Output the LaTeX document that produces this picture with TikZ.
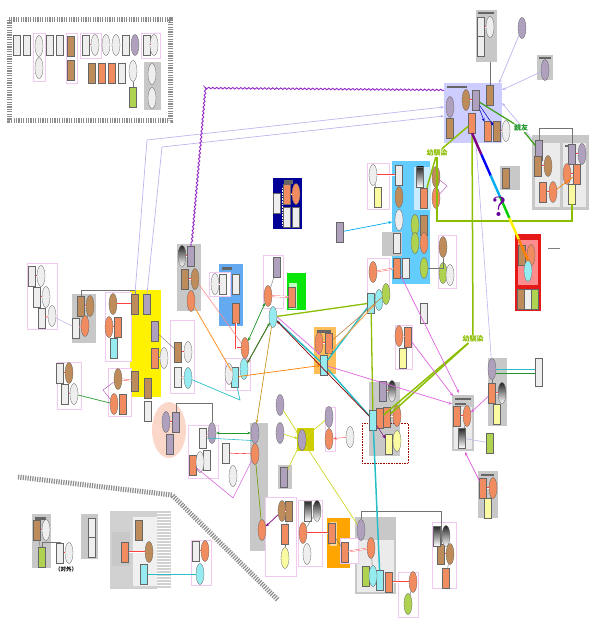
\documentclass[tikz,border=0pt]{standalone}
\usepackage{tikz}
\usepackage{xcolor}
\usepackage{fontspec}
\newfontfamily\cjk{Noto Sans CJK JP}
\usetikzlibrary{arrows.meta,shapes.geometric,calc,decorations.pathmorphing}
\definecolor{brn}{RGB}{190,140,90}
\definecolor{orn}{RGB}{240,140,95}
\definecolor{lav}{RGB}{175,160,190}
\definecolor{wht}{RGB}{238,238,238}
\definecolor{cyn}{RGB}{150,235,240}
\definecolor{ylw}{RGB}{250,250,160}
\definecolor{grn}{RGB}{175,210,80}
\definecolor{frm}{RGB}{240,200,240}
\definecolor{grp}{RGB}{200,200,200}
\definecolor{lavbox}{RGB}{205,205,255}
\definecolor{skyb}{RGB}{100,205,255}
\definecolor{navy}{RGB}{0,0,150}
\definecolor{blbox}{RGB}{100,170,240}
\definecolor{gbox}{RGB}{10,230,10}
\definecolor{lorbox}{RGB}{255,190,90}
\definecolor{orbox}{RGB}{255,165,0}
\definecolor{yelg}{RGB}{205,205,0}
\definecolor{peach}{RGB}{250,215,200}
\definecolor{rbox}{RGB}{230,25,25}
\definecolor{ogrn}{RGB}{140,190,0}
\definecolor{dgrn}{RGB}{30,150,40}
\definecolor{lvln}{RGB}{190,180,240}
\definecolor{mag}{RGB}{220,100,220}
\definecolor{cyln}{RGB}{40,190,200}
\definecolor{ocre}{RGB}{200,150,40}
\definecolor{ylln}{RGB}{205,215,40}
\definecolor{wavy}{RGB}{150,40,200}
\tikzset{
  male/.style={draw=black!60, line width=0.3pt, minimum width=7pt, minimum height=20pt, inner sep=0pt},
  fem/.style={ellipse, draw=black!60, line width=0.3pt, minimum width=8pt, minimum height=21pt, inner sep=0pt},
  drk/.style={top color=black!85, bottom color=white},
  wed/.style={draw=red!75, double=white, double distance=0.9pt, line width=0.3pt},
  kin/.style={black!55, line width=0.4pt},
  rel/.style={-{Stealth[length=3.5pt,width=3pt]}, line width=0.7pt},
  lbl/.style={font=\cjk\bfseries\fontsize{7}{7}\selectfont, inner sep=0.6pt, fill=white}
}
\begin{document}
\begin{tikzpicture}[x=1pt,y=-1pt]
    \useasboundingbox (0,0) rectangle (600,620);
    \draw[black!45, line width=5pt, dash pattern=on 1.2pt off 1.2pt] (9,20) rectangle (170,121);
    \draw[black!45, line width=5pt, dash pattern=on 1.2pt off 1.2pt] (18,477) -- (172,495) -- (278,600);
    \foreach \a/\b/\c/\d/\col in {
      144/62/161/110/grp, 476/10/497/62/grp, 537/55/553/80/grp, 444/83/502/143/lavbox,
      532/135/589/210/grp, 535/143/560/207/black!8, 563/143/586/207/black!8, 500/166/520/190/grp,
      515/234/541/311/rbox, 518/240/538/285/red!45, 392/161/430/284/skyb, 414/167/431/210/skyb!35,
      382/232/402/256/grp, 273/178/302/229/navy, 177/244/201/311/grp, 219/264/243/326/blbox,
      287/273/306/310/gbox, 289/283/297/309/green!25, 314/327/336/374/lorbox, 130/290/161/397/yellow,
      72/294/96/343/grp, 250/423/268/551/grp, 297/428/314/451/yelg, 278/465/292/489/grp,
      327/518/350/568/orbox, 330/522/337/546/lorbox!60, 355/517/396/594/grp, 357/540/394/592/black!8,
      369/382/400/456/grp, 452/395/474/451/grp, 454/407/472/449/black!8, 488/358/507/426/grp,
      478/471/498/518/grp, 32/514/51/568/grp, 81/514/98/559/grp, 110/511/171/589/black!18,
      133/517/157/586/black!6, 112/532/130/566/grp}
      \fill[\col] (\a,\b) rectangle (\c,\d);
    \foreach \yy in {513,516,...,588}
      \draw[white, line width=0.4pt] (157,\yy) -- (171,\yy);
    \fill[peach] (169,430) ellipse [x radius=17, y radius=28];
    \foreach \a/\b/\c/\d in {
      478/12/494/14.5, 539/57/551/59.5, 447/86/467/88.5, 565/145/576/147.5, 284/180/293/184,
      222/267/232/269.5, 317/330/331/332.5, 455/398/471/400, 455/403/466/405, 481/474/494/476,
      35/517/46/519.5}
      \fill[black!60] (\a,\b) rectangle (\c,\d);
    \foreach \a/\b/\c/\d in {
      33/33/45/81, 66/33/77/83, 80/33/101/58, 141/33/160/58, 367/163/389/209, 438/235/456/288,
      367/258/389/297, 209/272/230/296, 225/358/250/390, 263/255/283/308, 170/320/194/393,
      27/263/57/329, 105/292/131/361, 108/368/131/416, 57/362/81/409, 188/425/218/478,
      325/407/335/451, 265/497/296/576, 298/500/322/566, 398/572/418/617, 432/522/456/588,
      395/325/412/369, 191/540/211/585, 340/538/358/563}
      \draw[frm, fill=white, line width=0.5pt] (\a,\b) rectangle (\c,\d);
    \draw[white, densely dotted, line width=0.6pt] (282,188) -- (282,226);
    \draw[red!60!black, densely dotted, line width=0.6pt] (362,423) rectangle (408,463);
    \foreach \n/\x/\y/\c in {
      la/17/45/wht, lb/27/45/wht, lc/50/45/wht, ld/60/45/wht, le/71/46/brn, lf/71/70/brn,
      lg/86/45/wht, lh/126/45/wht, li/147/45/wht, lj/92/73/brn, lk/102/73/orn, ll/112/73/orn,
      lm/122/73/wht, ln/133/97/grn,
      ta/481/27/wht, tb/481/46/wht,
      va/490/95/brn, vb/476/100/lav, vc/450/128/brn, vd/472/123/orn, ve/488/131/orn, vf/497/131/brn,
      ra/539/150/lav, rb/538/166/brn, rc/543/192/orn, rd/572/154/lav, re/577/174/orn, rf/572/194/ylw,
      rk/506/178/brn, xa/522/255/brn, xb/521/299/brn, xc/528/299/wht, xd/535/299/grn,
      ba/399/175/wht, bc/424/198/orn, bd/424/225/brn, be/397/243/wht, bf/397/268/orn,
      bg/406/268/wht, bh/378/197/ylw, bi/424/313/wht, bw/340/232/lav, ha/371/303/cyn,
      da/277/203/wht, db/287/194/orn, dc/287/217/wht, dd/296/217/wht,
      gb/191/256/lav, gc/185/279/brn, ub/223/284/wht, uc/236/284/wht, ud/236/313/orn, ug/235/377/cyn,
      pa/277/267/lav, pd/292/297/orn, ob/329/343/orn, oc/324/365/cyn, ka/178/352/brn, kc/178/377/wht,
      wa/32/276/wht, wb/37/297/wht, wc/42/318/wht, wg/81/306/brn, wh/76/328/wht, wm/118/327/orn,
      wn/114/348/cyn, ya/135/304/brn, yb/147/304/lav, yc/155/331/lav, yd/155/358/orn, ye/135/381/brn,
      yf/148/388/brn, yj/123/404/orn, yk/60/373/wht, ym/65/394/wht, yo/148/411/wht,
      pf/176/422/lav, pg/170/444/lav, qa/203/438/wht, qc/193/465/orn, qe/207/460/wht, sc/226/453/wht,
      nc/284/477/lav, zb/289/511/brn, zc/285/534/orn, zj/332/533/orn, zk/345/552/orn, zn/366/576/grn,
      zp/380/580/cyn, zq/389/582/orn, zv/441/554/brn, zx/446/578/orn,
      ca/408/337/orn, cc/403/358/ylw, ea/383/391/lav, ec/373/420/cyn, ed/380/418/orn, ee/387/417/orn,
      eg/389/444/ylw, fa/457/416/orn, fd/490/443/grn, ib/492/393/orn, id/497/414/ylw,
      ja/483/488/orn, jc/488/508/ylw,
      bla/37/530/brn, blc/42/557/grn, bld/60/553/wht, blf/92/528/wht, blg/92/547/wht,
      blh/139/530/brn, bli/125/552/orn, blk/144/574/cyn, bll/196/551/wht}
      \node[male, fill=\c] (\n) at (\x,\y) {};
    \node[male, fill=wht, minimum height=28pt] (ie) at (539,372) {};
    \foreach \n/\x/\y/\c in {
      lo/39/46/wht, lp/39/68/wht, lq/95/45/wht, lr/106/45/wht, ls/116/45/wht, lt/135/45/lav,
      lu/154/45/wht, lv/133/71/wht, lw/152/74/wht, lx/152/98/wht,
      tc/490/27/wht, td/522/28/lav, te/545/70/lav,
      vg/450/107/lav, vh/466/100/brn, vi/506/131/wht,
      rg/548/166/brn, rh/553/192/orn, ri/582/154/lav, rj/567/174/orn,
      xe/531/255/orn, xf/528/271/cyn,
      bj/399/197/brn, bk/399/220/wht, bl/415/225/grn, bm/415/243/grn, bn/424/243/orn, bo/424/268/grn,
      bp/373/175/wht, bq/436/177/brn, br/436/198/orn, bs/443/247/brn, bt/443/273/grn, bu/450/275/wht,
      bv/373/272/orn, hb/379/300/cyn, hc/386/294/grn,
      de/296/194/orn, gd/195/279/brn, ge/191/301/orn, ua/215/284/wht, ue/245/348/orn, uf/229/374/wht,
      uh/244/369/cyn, pb/268/296/orn, pc/273/317/cyn, oa/319/343/orn, kb/188/352/wht, kd/188/378/cyn,
      wd/41/276/wht, we/46/297/wht, wf/52/316/wht, wi/90/306/brn, wj/85/326/orn, wk/113/304/brn,
      wl/109/327/orn, yg/164/358/wht, yh/118/379/brn, yi/114/404/orn, yl/69/373/brn, yn/74/394/wht,
      pe/166/422/lav, qb/212/433/lav, qd/200/462/wht, sa/255/433/lav, sb/255/454/orn, sd/233/476/wht,
      na/280/405/lav, nb/280/433/lav, nd/302/440/lav, ne/329/417/lav, nf/329/439/orn, ng/350/437/wht,
      za/282/511/brn, zd/285/558/ylw, ze/262/530/orn, zh/303/533/orn, zi/307/554/wht,
      zl/361/530/lav, zm/371/548/orn, zo/373/576/cyn, zr/413/582/orn, zs/408/604/grn, zw/450/554/brn,
      cb/399/336/orn, ef/397/416/orn, eh/397/441/ylw, fb/467/416/orn, ia/492/369/lav,
      jb/493/488/orn, blb/46/530/wht, ble/69/553/wht, blj/149/552/brn, blm/205/551/orn, bln/200/574/cyn}
      \node[fem, fill=\c] (\n) at (\x,\y) {};
    \foreach \n/\x/\y/\s in {
      bb/420/177/male, ga/182/256/fem, zf/308/511/male, zg/317/511/fem, zt/437/536/male,
      zu/446/536/fem, eb/392/391/fem, fc/462/438/male, ic/502/393/fem}
      \node[\s, drk] (\n) at (\x,\y) {};
    \foreach \p/\q in {
      lg/lq, li/lu, ta/tc, vh/vb, vf/vi, rb/rg, rc/rh, rd/ri, rj/re, xa/xe, bp/ba, bv/bf,
      gc/gd, ua/ub, pb/pd, oa/ob, ka/kb, wa/wd, wb/we, wc/wf, wg/wi, wh/wj, wk/ya, wl/wm,
      yd/yg, yh/ye, yk/yl, ym/yn, pe/pf, qa/qb, zk/zm, zq/zr, za/zb, zh/zj, zv/zw, zt/zu,
      fa/fb, ib/ic, ja/jb, bla/blb, bld/ble, bli/blj, bll/blm, ee/ef, cb/ca, db/de, kc/kd,
      gb/ga, eb/ea}
      \draw[wed] (\p) -- (\q);
    \draw[wed] (ud) |- (ue);
    \foreach \p/\q in {lv/ln, bp/bh, bs/bt, pa/pb, wi/wj, yc/ka, zb/zc, zc/zd, zg/zh, zm/zo,
      zr/zs, zu/zw, zw/zx, ia/ib, ib/id, jb/jc, fb/fc, bla/blc, gd/ge, zj/zk}
      \draw[kin] (\p) -- (\q);
    \coordinate (tbox) at (490,62);
    \draw[kin] (tbox) -- (va);
    \draw[kin] (ra.north) -- ++(0,-12) -| (rd.north);
    \draw[kin] (wg.north) -- ++(0,-6) -| (ya.north);
    \draw[kin] (pf.north) -- ++(0,-9) -| (qb.north);
    \draw[kin] (zl.north) -- ++(0,-8) -| (zv.north);
    \draw[kin] (blc.north) -- ++(0,-5) -| (bld.north);
    \draw[kin] (bo) -| (bs);
    \draw[gray, line width=0.8pt] (548,248) -- (560,248);
    % long connectors
    \coordinate (vin1) at (444,107);
    \coordinate (vin2) at (444,116);
    \coordinate (vin3) at (499,83);
    \coordinate (vin4) at (502,90);
    \coordinate (vin5) at (502,103);
    \coordinate (rbx) at (533,140);
    \coordinate (vwav) at (444,90);
    \draw[lvln, rel] (ya.north) -- (147,140) -- (vin1);
    \draw[lvln, rel] (yb.north) -- (162,147) -- (vin2);
    \draw[lvln, rel] (td) -- (vin3);
    \draw[lvln, rel] (te) -- (vin4);
    \draw[lvln, rel] (rbx) -- (vin5);
    \draw[lvln, line width=0.6pt] (476,143) -- (ia);
    \draw[wavy, line width=0.9pt, decorate, decoration={snake, amplitude=0.8pt, segment length=4pt}]
      (vwav) -- (205,88) -- (gb.north);
    \draw[blue!80!black, rel, line width=0.5pt] (vb) -- (ve);
    \draw[blue!80!black, rel, line width=0.5pt] (vb) -- (vf);
    \node[lbl, text=ogrn] (lbA) at (437,153) {幼馴染};
    \node[lbl, text=ogrn] (lbC) at (473,339) {幼馴染};
    \node[lbl, text=dgrn] (lbB) at (521,128) {親友};
    \draw[ogrn, line width=1.5pt] (vd) -- (lbA) -- (bc);
    \draw[ogrn, line width=1.5pt] (lbA) -- (437,221) -| (rf);
    \draw[dgrn!70!ogrn, line width=1.3pt] (vb) -- (lbB) -- (ra);
    \draw[ogrn, line width=1.5pt] (vd) -- (lbC);
    \draw[ogrn, line width=1.5pt] (lbC) -- (ed);
    \draw[ogrn, line width=1.5pt] (lbC) -- (ee);
    \foreach \c [count=\i from 0] in {violet,blue,cyan,green!80!black,yellow,orange}
      \draw[\c, line width=2.4pt] ($(vd.south)!{\i/6}!(xf.north)$) -- ($(vd.south)!{(\i+1)/6}!(xf.north)$);
    \node[font=\bfseries\fontsize{28}{28}\selectfont, text=violet!80!blue] (qm) at (499,207) {?};
    \draw[orange, line width=0.7pt] (re) -- (rh);
    \draw[violet!70, line width=0.4pt] (bq) -- (447,186) -- (br);
    \coordinate (bin) at (392,222);
    \draw[cyan, rel] (bw) -- (bin);
    \draw[ogrn, line width=1.3pt] (pc) -- (ha);
    \draw[ogrn, line width=1.3pt] (ha) -- (ec);
    \draw[cyln, line width=1.5pt] (pc) -- (oc);
    \draw[cyln, line width=1.5pt] (oc) -- (ha);
    \draw[cyln, line width=1.5pt] (oc) -- (ec);
    \draw[cyln, line width=1.5pt] (ec) -- (zp);
    \draw[orange!70, line width=0.9pt] (oc.north east) -- (hb);
    \draw[brown, line width=0.6pt] (ob) -- (hc);
    \draw[red!55!black, rel] (ec) -- (pc);
    \draw[red!55!black, rel] (pc) -- (uh);
    \draw[dgrn, {Stealth[length=3.5pt]}-{Stealth[length=3.5pt]}, line width=0.7pt] (ue) -- (pb);
    \draw[dgrn, rel] (uh) -- (pc);
    \draw[orange, rel] (ug) -- (oc);
    \draw[orange!80, line width=0.9pt] (ge) -- (ug);
    \draw[red!45, line width=0.6pt] (gd) -- (ue);
    \draw[cyln, line width=0.7pt] (kd) -- (240,400) -- (ug);
    \draw[mag, rel] (pc.east) -- (oc.north west);
    \coordinate (fin1) at (452,404);
    \coordinate (fin2) at (459,393);
    \coordinate (fin3) at (453,396);
    \coordinate (fin4) at (465,452);
    \draw[mag, rel] (oc) -- (fin1);
    \draw[mag, rel] (bf) -- (fin2);
    \draw[mag, rel] (ca) -- (fin3);
    \draw[mag, rel] (ib) -- (fb);
    \draw[mag, rel] (ja) -- (fin4);
    \draw[ocre, rel] (pc) -- (sa);
    \draw[dgrn, {Stealth[length=3.5pt]}-{Stealth[length=3.5pt]}, line width=0.7pt] (qb.east) -- (sa.west);
    \draw[cyln, line width=0.6pt] (qa.east) -- (sa.south west);
    \draw[red, line width=0.4pt] (sc) -- (sb);
    \draw[mag, line width=0.6pt] (qc) -- (233,498) -- (sb);
    \draw[ogrn!80!black, line width=0.6pt] (sb) -- (ze);
    \draw[violet, rel] (za) -- (ze);
    \foreach \s in {na,nb,nc,ne,zl}
      \draw[ylln, rel] (\s) -- (nd);
    \draw[red!60, rel, line width=0.5pt] (ng) -- (nf);
    \draw[violet, rel, line width=0.5pt] (ec) -- (eg);
    \draw[cyln, line width=0.8pt] (ia) -- (ia -| ie.west);
    \draw[dgrn, line width=0.8pt] ([yshift=-4pt]ia.east) -- ([yshift=-4pt]ia.east -| ie.west);
    \draw[lvln, line width=0.6pt] (fc) -- (fd);
    \draw[lvln, line width=0.6pt] (wf) -- (wh);
    \draw[dgrn, line width=0.7pt] (yn) -- (yi);
    \draw[cyln, line width=0.7pt] (blk) -- (bln);
    \draw[violet!70, line width=0.4pt] (yh) -- (103,390) -- (yi);
    \node[font=\cjk\bfseries\fontsize{5.5}{6}\selectfont] (tai) at (66,569) {（対外）};
\end{tikzpicture}
\end{document}
